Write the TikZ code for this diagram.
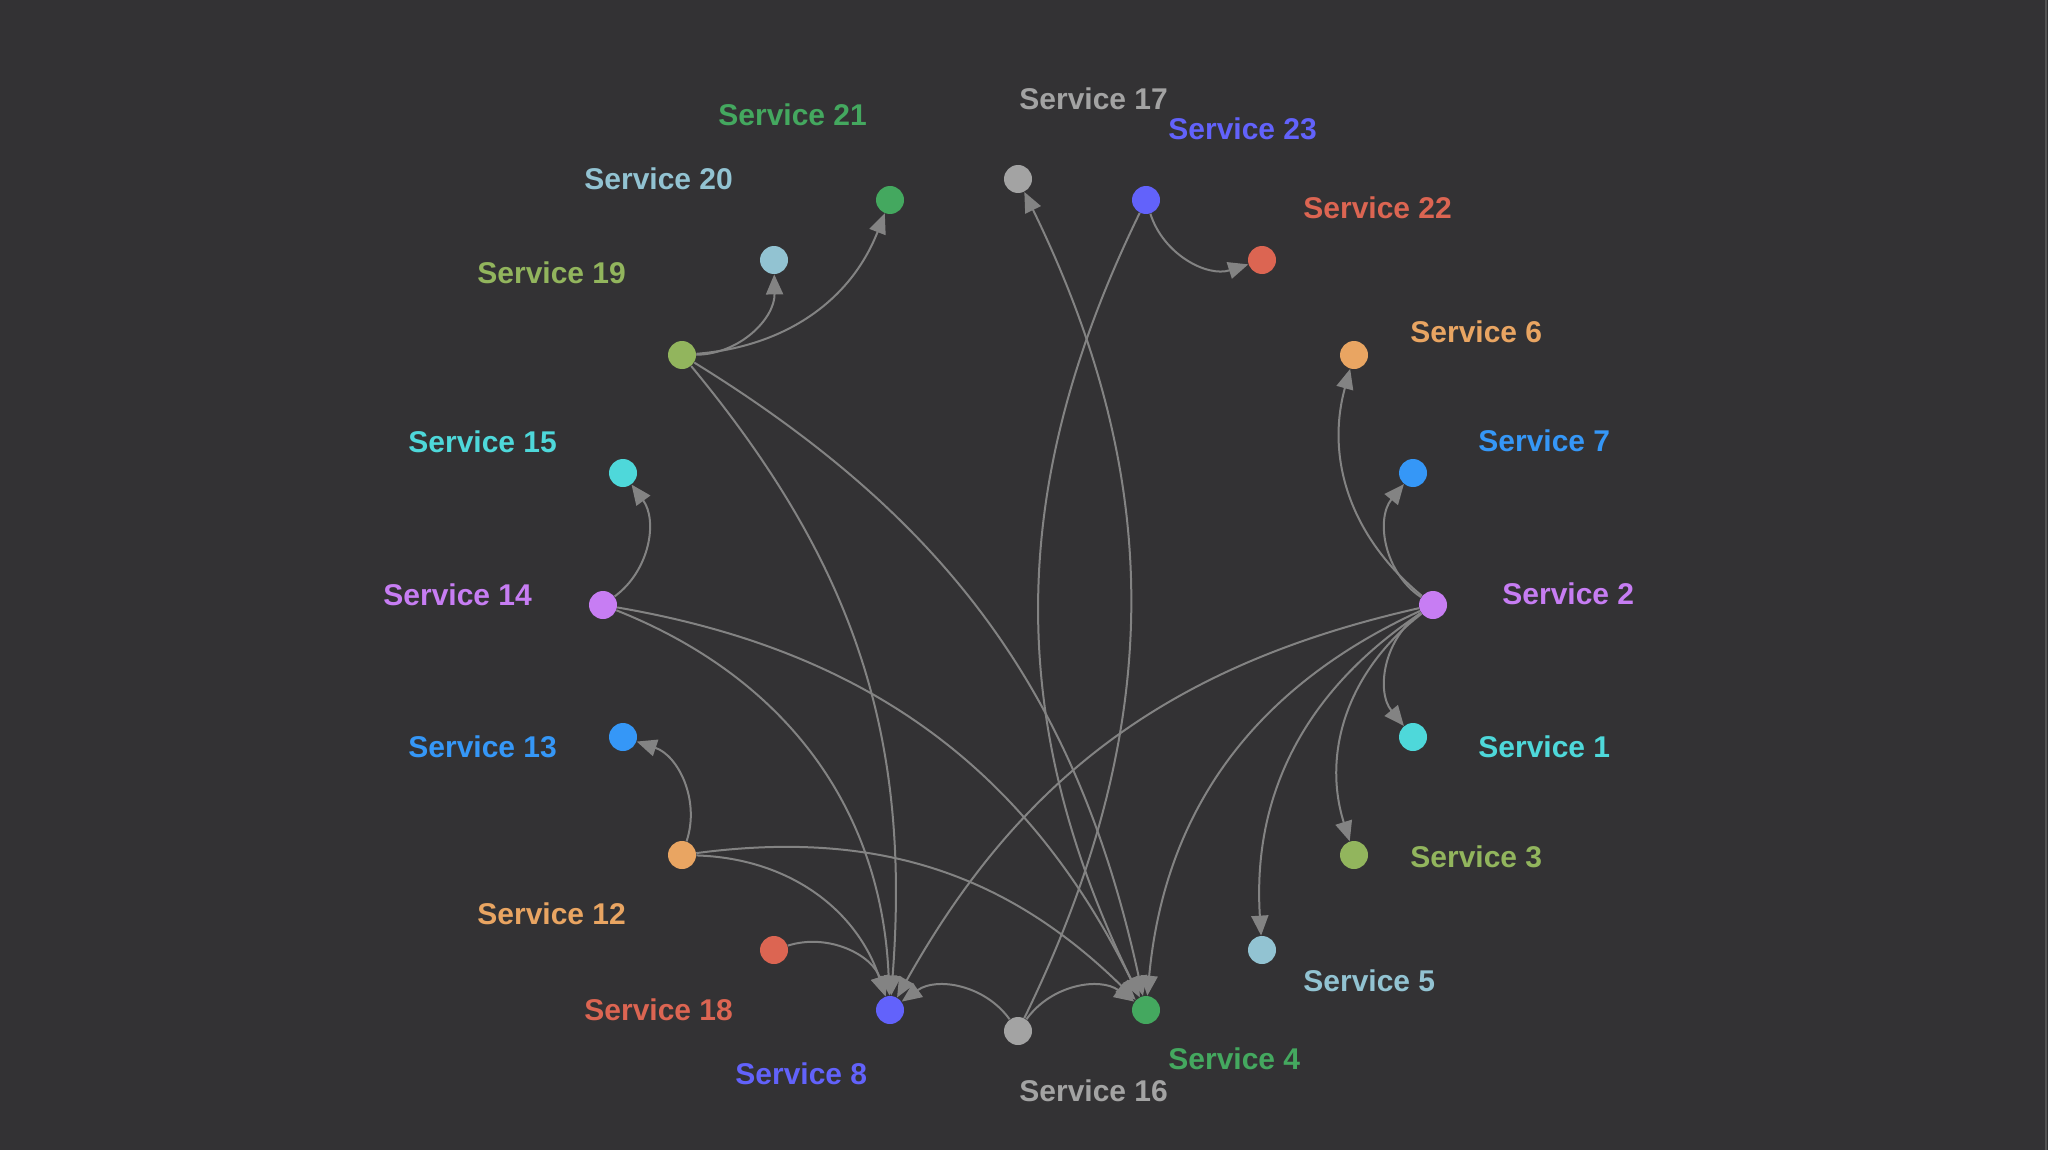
\documentclass[tikz,border=0pt]{standalone}
\usepackage{fontspec}
\setmainfont{Liberation Sans}
\usetikzlibrary{arrows.meta}
\pgfdeclarelayer{bg}
\pgfdeclarelayer{edges}
\pgfsetlayers{bg,edges,main}
\definecolor{bgc}{HTML}{333234}
\definecolor{edgec}{HTML}{838383}
\definecolor{cviolet}{HTML}{C77DF3}
\definecolor{ccyan}{HTML}{4ED8DA}
\definecolor{cblue}{HTML}{3597F7}
\definecolor{corange}{HTML}{E9A562}
\definecolor{colive}{HTML}{92B55D}
\definecolor{clblue}{HTML}{92C3D2}
\definecolor{cgreen}{HTML}{44A85F}
\definecolor{cgray}{HTML}{A3A3A3}
\definecolor{cindigo}{HTML}{6262FB}
\definecolor{cred}{HTML}{DC6552}
\begin{document}
\begin{tikzpicture}[x=0.5pt,y=-0.5pt,
  svc/.style={circle,minimum size=14pt,inner sep=0pt,fill=#1},
  lbl/.style={text=#1,anchor=west,inner sep=0pt,font=\fontsize{15}{18}\selectfont\bfseries},
  lnk/.style={draw=edgec,line width=1pt,-{Triangle[length=10pt,width=8.5pt]}}]
\useasboundingbox (0,0) rectangle (2048,1150);
\begin{pgfonlayer}{bg}
\fill[bgc] (0,0) rectangle (2048,1150);
\fill[black!35!gray] (2045,0) rectangle (2047,1150);
\end{pgfonlayer}
% nodes
\node[svc=cviolet] (n2)  at (1433,605) {};
\node[svc=cblue]   (n7)  at (1413,473) {};
\node[svc=corange] (n6)  at (1354,355) {};
\node[svc=cred]    (n22) at (1262,260) {};
\node[svc=cindigo] (n23) at (1146,200) {};
\node[svc=cgray]   (n17) at (1018,179) {};
\node[svc=cgreen]  (n21) at (890,200) {};
\node[svc=clblue]  (n20) at (774,260) {};
\node[svc=colive]  (n19) at (682,355) {};
\node[svc=ccyan]   (n15) at (623,473) {};
\node[svc=cviolet] (n14) at (603,605) {};
\node[svc=cblue]   (n13) at (623,737) {};
\node[svc=corange] (n12) at (682,855) {};
\node[svc=cred]    (n18) at (774,950) {};
\node[svc=cindigo] (n8)  at (890,1010) {};
\node[svc=cgray]   (n16) at (1018,1031) {};
\node[svc=cgreen]  (n4)  at (1146,1010) {};
\node[svc=clblue]  (n5)  at (1262,950) {};
\node[svc=colive]  (n3)  at (1354,855) {};
\node[svc=ccyan]   (n1)  at (1413,737) {};
% labels
\node[lbl=cviolet] (t2)  at (1502,594) {Service 2};
\node[lbl=cblue]   (t7)  at (1478,441) {Service 7};
\node[lbl=corange] (t6)  at (1410,332) {Service 6};
\node[lbl=cred]    (t22) at (1303,208) {Service 22};
\node[lbl=cindigo] (t23) at (1168,129) {Service 23};
\node[lbl=cgray]   (t17) at (1019,99) {Service 17};
\node[lbl=cgreen]  (t21) at (718,115) {Service 21};
\node[lbl=clblue]  (t20) at (584,179) {Service 20};
\node[lbl=colive]  (t19) at (477,273) {Service 19};
\node[lbl=ccyan]   (t15) at (408,442) {Service 15};
\node[lbl=cviolet] (t14) at (383,595) {Service 14};
\node[lbl=cblue]   (t13) at (408,747) {Service 13};
\node[lbl=corange] (t12) at (477,914) {Service 12};
\node[lbl=cred]    (t18) at (584,1010) {Service 18};
\node[lbl=cindigo] (t8)  at (735,1074) {Service 8};
\node[lbl=cgray]   (t16) at (1019,1091) {Service 16};
\node[lbl=cgreen]  (t4)  at (1168,1059) {Service 4};
\node[lbl=clblue]  (t5)  at (1303,981) {Service 5};
\node[lbl=colive]  (t3)  at (1410,857) {Service 3};
\node[lbl=ccyan]   (t1)  at (1478,747) {Service 1};
% edges
\begin{pgfonlayer}{edges}
\draw[lnk] (n19) to[bend right=45] (n20);
\draw[lnk] (n19) to[bend right=32] (n21);
\draw[lnk] (n14) to[bend right=45] (n15);
\draw[lnk] (n12) to[bend right=45] (n13);
\draw[lnk] (n23) to[bend right=45] (n22);
\draw[lnk] (n2) to[bend left=48] (n7);
\draw[lnk] (n2) to[bend left=33] (n6);
\draw[lnk] (n2) to[bend right=48] (n1);
\draw[lnk] (n2) to[bend right=35] (n3);
\draw[lnk] (n2) to[bend right=30] (n5);
\draw[lnk] (n2) to[bend right=30] (n4);
\draw[lnk] (n2) to[bend right=24] (n8);
\draw[lnk] (n19) to[bend left=22] (n8);
\draw[lnk] (n19) to[bend left=23] (n4);
\draw[lnk] (n14) to[bend left=33] (n8);
\draw[lnk] (n14) to[bend left=27] (n4);
\draw[lnk] (n12) to[bend left=35] (n8);
\draw[lnk] (n12) to[bend left=26] (n4);
\draw[lnk] (n18) to[bend left=45] (n8);
\draw[lnk] (n16) to[bend right=45] (n8);
\draw[lnk] (n16) to[bend left=45] (n4);
\draw[lnk] (n16) to[bend right=26] (n17);
\draw[lnk] (n23) to[bend right=26] (n4);
\end{pgfonlayer}
\end{tikzpicture}
\end{document}
